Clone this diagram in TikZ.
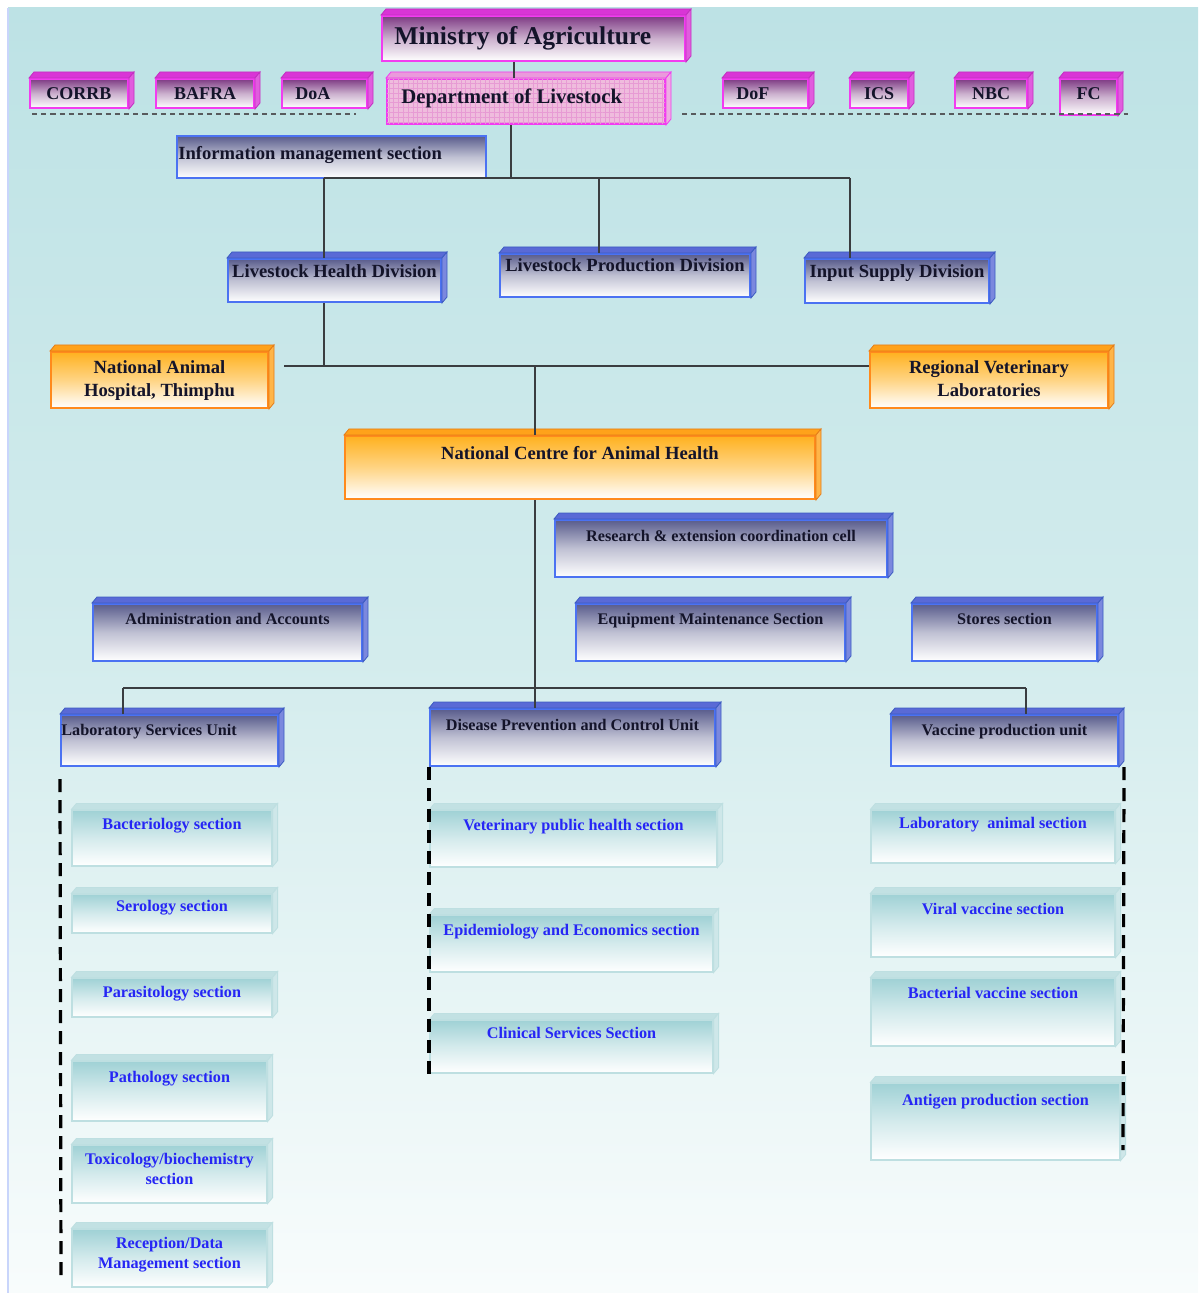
\documentclass[tikz,border=0pt]{standalone}
\usepackage{fontspec}
\setmainfont{Liberation Serif}
\usetikzlibrary{positioning, fit, patterns.meta}

\definecolor{bgtop}{HTML}{BDE2E5}
\definecolor{bgmid}{HTML}{D3ECED}
\definecolor{bgbot}{HTML}{F8FCFC}
\definecolor{magtop}{HTML}{7E3A84}
\definecolor{magedge}{HTML}{F23CF0}
\definecolor{magface}{HTML}{D935D6}
\definecolor{doltone}{HTML}{EFBCDD}
\definecolor{dolgrid}{HTML}{E79BD4}
\definecolor{blutop}{HTML}{595C8C}
\definecolor{bluedge}{HTML}{4B72F2}
\definecolor{bluface}{HTML}{5A6AD6}
\definecolor{orgtop}{HTML}{FFB11F}
\definecolor{orgedge}{HTML}{FF8A1C}
\definecolor{orgface}{HTML}{FFA21A}
\definecolor{tealtop}{HTML}{9FD1D5}
\definecolor{tealedge}{HTML}{BEDFE1}
\definecolor{tealface}{HTML}{C2E1E3}
\definecolor{ink}{HTML}{14142A}
\definecolor{subink}{HTML}{2626F5}
\definecolor{wire}{HTML}{3A3D40}

% top and side faces of a box node
\newcommand{\cubefaces}[3]{%
  \filldraw[fill=#2, draw=#3, line width=0.4pt]
    (#1.north west) -- ([shift={(5,-6)}]#1.north west)
    -- ([shift={(5,-6)}]#1.north east) -- (#1.north east) -- cycle;
  \filldraw[fill=#2!80!white, draw=#3, line width=0.4pt]
    (#1.north east) -- ([shift={(5,-6)}]#1.north east)
    -- ([shift={(5,-6)}]#1.south east) -- (#1.south east) -- cycle;
}

\tikzset{
  plate/.style={inner sep=0pt, line width=1pt},
  magbox/.style={plate, draw=magedge, top color=magtop, bottom color=white, middle color=magtop!40!white},
  dolbox/.style={plate, draw=magedge, fill=doltone, postaction={pattern={Hatch[angle=0, distance=2.4pt, line width=0.25pt]}, pattern color=dolgrid}},
  blubox/.style={plate, draw=bluedge, top color=blutop, bottom color=white, middle color=blutop!38!white},
  orgbox/.style={plate, draw=orgedge, top color=orgtop, bottom color=white, middle color=orgtop!55!white},
  tealbox/.style={plate, line width=0.6pt, draw=tealedge, top color=tealtop, bottom color=white, middle color=tealtop!45!white},
  lbl/.style={inner sep=0pt, text=ink, align=center, font=\bfseries\fontsize{9.3}{11.5}\selectfont},
  taglbl/.style={lbl, font=\bfseries\fontsize{9}{11}\selectfont},
  smalllbl/.style={lbl, font=\bfseries\fontsize{8.1}{10}\selectfont},
  sublbl/.style={smalllbl, text=subink},
  link/.style={draw=wire, line width=1pt},
  rail/.style={draw=black, line width=1.6pt, dash pattern=on 6.5pt off 4pt},
  divider/.style={draw=wire!85, line width=0.9pt, dash pattern=on 2.6pt off 2pt},
}

\begin{document}
\begin{tikzpicture}[x=0.5pt, y=-0.5pt]

    \useasboundingbox (0,0) rectangle (1198,1293);
    \shade[top color=bgtop, bottom color=bgbot, middle color=bgmid] (8,8) rectangle (1198,1293);
    \draw[bluedge!30, line width=0.6pt] (8,8) -- (8,1293);

    % ministry row
    \node[magbox, fit={(382,16) (685,61)}] (moa) {};
    \node[magbox, fit={(30,79) (128,108)}] (corrb) {};
    \node[magbox, fit={(156,79) (254,108)}] (bafra) {};
    \node[magbox, fit={(282,79) (367,108)}] (doa) {};
    \node[dolbox, fit={(387,79) (665,124)}] (dol) {};
    \node[magbox, fit={(723,79) (808,108)}] (dof) {};
    \node[magbox, fit={(850,79) (908,108)}] (ics) {};
    \node[magbox, fit={(955,79) (1027,108)}] (nbc) {};
    \node[magbox, fit={(1060,79) (1117,115)}] (fc) {};
    \foreach \n in {moa,corrb,bafra,doa,dof,ics,nbc,fc} {\cubefaces{\n}{magface}{magedge!80!black}}
    \cubefaces{dol}{doltone!75!magface}{magedge}

    \node[lbl, font=\bfseries\fontsize{12.8}{15}\selectfont, below right=5.6pt and 6.5pt of moa.north west] (moa-t) {Ministry of Agriculture};
    \node[taglbl] (corrb-t) at (corrb.center) {CORRB};
    \node[taglbl] (bafra-t) at (bafra.center) {BAFRA};
    \node[taglbl, right=7pt of doa.west] (doa-t) {DoA};
    \node[lbl, font=\bfseries\fontsize{10.4}{12}\selectfont, below right=5.2pt and 7.5pt of dol.north west] (dol-t) {Department of Livestock};
    \node[taglbl, right=7pt of dof.west] (dof-t) {DoF};
    \node[taglbl] (ics-t) at (ics.center) {ICS};
    \node[taglbl] (nbc-t) at (nbc.center) {NBC};
    \node[taglbl] (fc-t) at ([yshift=1.5pt]fc.center) {FC};

    \draw[divider] (32,114) -- (356,114);
    \draw[divider] (682,114) -- (1128,114);

    \coordinate (hubM) at (514,0);
    \draw[link] (moa.south -| hubM) -- (dol.north -| hubM);

    % divisions
    \node[blubox, fit={(177,136) (486,178)}] (info) {};
    \node[lbl, below right=5.5pt and 1pt of info.north west] (info-t) {Information management section};

    \node[blubox, fit={(228,259) (441,302)}] (lhd) {};
    \node[blubox, fit={(500,254) (750,297)}] (lpd) {};
    \node[blubox, fit={(805,259) (989,303)}] (isd) {};
    \foreach \n in {lhd,lpd,isd} {\cubefaces{\n}{bluface}{bluedge!80!black}}
    \node[lbl, below=3pt of lhd.north] (lhd-t) {Livestock Health Division};
    \node[lbl, below=2.5pt of lpd.north] (lpd-t) {Livestock Production Division};
    \node[lbl, below=3pt of isd.north] (isd-t) {Input Supply Division};

    \coordinate (hubA) at (511,178);
    \coordinate (dropH) at (324,178);
    \coordinate (dropP) at (599,178);
    \coordinate (dropI) at (850,178);
    \draw[link] (dol.south -| hubA) -- (hubA);
    \draw[link] (dropH) -- (dropI);
    \draw[link] (dropH) -- (dropH |- lhd.north);
    \draw[link] (dropP) -- (dropP |- lpd.north);
    \draw[link] (dropI) -- (dropI |- isd.north);

    % national centre
    \node[orgbox, fit={(51,352) (268,408)}] (nah) {};
    \node[orgbox, fit={(870,352) (1108,408)}] (rvl) {};
    \node[orgbox, fit={(345,436) (815,499)}] (ncah) {};
    \foreach \n in {nah,rvl,ncah} {\cubefaces{\n}{orgface}{orgedge!90!black}}
    \node[lbl, below=4.5pt of nah.north] (nah-t) {National Animal\\Hospital, Thimphu};
    \node[lbl, below=4.5pt of rvl.north] (rvl-t) {Regional Veterinary\\Laboratories};
    \node[lbl, below=5.5pt of ncah.north] (ncah-t) {National Centre for Animal Health};

    \coordinate (hubB) at (324,366);
    \coordinate (hubC) at (535,366);
    \draw[link] (lhd.south -| hubB) -- (hubB);
    \draw[link] ([xshift=7.5pt]nah.east |- hubB) -- (rvl.west |- hubB);
    \draw[link] (hubC) -- (ncah.north -| hubC);

    % cells and units
    \node[blubox, fit={(555,520) (887,577)}] (recc) {};
    \node[blubox, fit={(93,604) (362,661)}] (aa) {};
    \node[blubox, fit={(576,604) (845,661)}] (ems) {};
    \node[blubox, fit={(912,604) (1097,661)}] (ss) {};
    \node[blubox, fit={(61,715) (278,766)}] (lsu) {};
    \node[blubox, fit={(430,709) (715,766)}] (dpcu) {};
    \node[blubox, fit={(891,715) (1118,766)}] (vpu) {};
    \foreach \n in {recc,aa,ems,ss,lsu,dpcu,vpu} {\cubefaces{\n}{bluface}{bluedge!80!black}}
    \node[smalllbl, below=5.5pt of recc.north] (recc-t) {Research \& extension coordination cell};
    \node[smalllbl, below=5pt of aa.north] (aa-t) {Administration and Accounts};
    \node[smalllbl, below=5pt of ems.north] (ems-t) {Equipment Maintenance Section};
    \node[smalllbl, below=5pt of ss.north] (ss-t) {Stores section};
    \node[smalllbl, below right=5pt and 0.5pt of lsu.north west] (lsu-t) {Laboratory Services Unit};
    \node[smalllbl, below=5.5pt of dpcu.north] (dpcu-t) {Disease Prevention and Control Unit};
    \node[smalllbl, below=5pt of vpu.north] (vpu-t) {Vaccine production unit};

    \coordinate (dropL) at (123,688);
    \coordinate (dropV) at (1026,688);
    \draw[link] (ncah.south -| hubC) -- (dpcu.north -| hubC);
    \draw[link] (dropL) -- (dropV);
    \draw[link] (dropL) -- (dropL |- lsu.north);
    \draw[link] (dropV) -- (dropV |- vpu.north);

    % sections
    \node[tealbox, fit={(72,810) (272,866)}] (bac) {};
    \node[tealbox, fit={(72,894) (272,933)}] (ser) {};
    \node[tealbox, fit={(72,978) (272,1017)}] (par) {};
    \node[tealbox, fit={(72,1061) (267,1121)}] (pat) {};
    \node[tealbox, fit={(72,1145) (267,1203)}] (tox) {};
    \node[tealbox, fit={(72,1229) (267,1287)}] (rec) {};
    \node[tealbox, fit={(430,810) (717,867)}] (vph) {};
    \node[tealbox, fit={(430,915) (713,972)}] (epi) {};
    \node[tealbox, fit={(430,1020) (713,1073)}] (cli) {};
    \node[tealbox, fit={(871,810) (1115,863)}] (las) {};
    \node[tealbox, fit={(871,894) (1115,957)}] (vvs) {};
    \node[tealbox, fit={(871,978) (1115,1046)}] (bvs) {};
    \node[tealbox, fit={(871,1083) (1120,1160)}] (aps) {};
    \foreach \n in {bac,ser,par,pat,tox,rec,vph,epi,cli,las,vvs,bvs,aps} {\cubefaces{\n}{tealface}{tealedge}}

    \node[sublbl, below=4pt of bac.north] (bac-t) {Bacteriology section};
    \node[sublbl, below=3pt of ser.north] (ser-t) {Serology section};
    \node[sublbl, below=4pt of par.north] (par-t) {Parasitology section};
    \node[sublbl, below=5pt of pat.north] (pat-t) {Pathology section};
    \node[sublbl, below=4pt of tox.north] (tox-t) {Toxicology/biochemistry\\section};
    \node[sublbl, below=4pt of rec.north] (rec-t) {Reception/Data\\Management section};
    \node[sublbl, below=4.5pt of vph.north] (vph-t) {Veterinary public health section};
    \node[sublbl, below=4.5pt of epi.north] (epi-t) {Epidemiology and Economics section};
    \node[sublbl, below=3.5pt of cli.north] (cli-t) {Clinical Services Section};
    \node[sublbl, below=3.5pt of las.north] (las-t) {Laboratory\ \ animal section};
    \node[sublbl, below=4.5pt of vvs.north] (vvs-t) {Viral vaccine section};
    \node[sublbl, below=4.5pt of bvs.north] (bvs-t) {Bacterial vaccine section};
    \node[sublbl, below=5.5pt of aps.north] (aps-t) {Antigen production section};

    \coordinate (railL) at (61,1280);
    \coordinate (railV) at (1123,1150);
    \draw[rail] ([yshift=-6pt]lsu.south west) -- (railL);
    \draw[rail] (dpcu.south west) -- (dpcu.south west |- cli.south);
    \draw[rail] ([shift={(5,0)}]vpu.south east) -- (railV);

\end{tikzpicture}
\end{document}
